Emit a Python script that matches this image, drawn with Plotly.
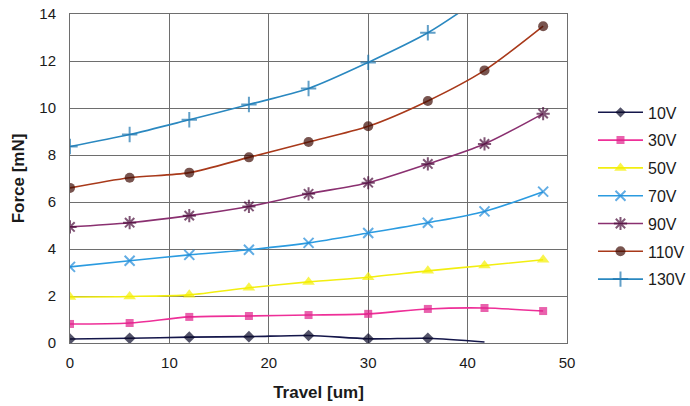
import plotly.graph_objects as go

# Travel positions [um] at which force was measured
travel = [0, 6, 12, 18, 24, 30, 36, 41.7, 47.6]

# Force [mN] per drive voltage
force_10v = [0.17, 0.20, 0.25, 0.27, 0.32, 0.18, 0.20, 0.04]
force_30v = [0.81, 0.85, 1.11, 1.15, 1.19, 1.24, 1.45, 1.49, 1.36]
force_50v = [1.96, 1.98, 2.05, 2.35, 2.60, 2.80, 3.07, 3.30, 3.54]
force_70v = [3.24, 3.50, 3.75, 3.97, 4.26, 4.68, 5.12, 5.60, 6.44]
force_90v = [4.94, 5.12, 5.42, 5.81, 6.35, 6.82, 7.62, 8.47, 9.76]
force_110v = [6.60, 7.03, 7.25, 7.90, 8.55, 9.22, 10.30, 11.60, 13.48]
force_130v = [8.36, 8.87, 9.50, 10.15, 10.83, 11.94, 13.20, 14.80]

labels = ["10V", "30V", "50V", "70V", "90V", "110V", "130V"]
series = [force_10v, force_30v, force_50v, force_70v, force_90v, force_110v, force_130v]

line_colors = ["#14164a", "#ee2f98", "#f2ee10", "#2b9be0", "#8a3070", "#a8391a", "#2a88c0"]
marker_colors = ["#0a0a2a", "#e0208a", "#f5f000", "#1f8ad8", "#4a0d3a", "#3e0c04", "#1f78b0"]
symbols = ["diamond", "square", "triangle-up", "x-thin-open", "asterisk-open", "circle", "cross-thin-open"]
sizes = [9, 8, 11, 10, 11, 10, 11]

fig = go.Figure()
for name, ys, lc, mc, sym, sz in zip(labels, series, line_colors, marker_colors, symbols, sizes):
    n = len(ys)
    msize = [sz] * n
    if name == "10V":
        msize[-1] = 0  # last reading drawn as line end only
    open_sym = sym.endswith("open")
    fig.add_trace(go.Scatter(
        x=travel[:n], y=ys, name=name, mode="lines+markers",
        line=dict(color=lc, width=1.6, shape="spline", smoothing=0.8),
        marker=dict(symbol=sym, size=msize, color=mc,
                    line=dict(color=mc, width=2 if open_sym else 0)),
        legendgroup=name,
    ))

fig.update_layout(
    width=690, height=406,
    margin=dict(l=70, r=123, t=14, b=63, autoexpand=False),
    paper_bgcolor="white", plot_bgcolor="white",
    font=dict(family="Liberation Sans, Arial, sans-serif", size=15, color="#1a1a1a"),
    showlegend=True,
    legend=dict(xref="container", yref="container", x=0.8594, y=0.765,
                xanchor="left", yanchor="top",
                tracegroupgap=4, font=dict(size=16, color="#1a1a1a"),
                bgcolor="rgba(0,0,0,0)", itemwidth=45),
)
fig.update_xaxes(
    range=[0, 50], tickvals=[0, 10, 20, 30, 40, 50],
    showgrid=True, gridcolor="#6e6e6e", gridwidth=1,
    zeroline=False, showline=True, linecolor="#6e6e6e", mirror=True,
    ticks="", ticklen=0, ticklabelstandoff=6, automargin=False,
    title=dict(text="<b>Travel [um]</b>", font=dict(size=17), standoff=16),
)
fig.update_yaxes(
    range=[0, 14], tickvals=list(range(0, 15, 2)),
    showgrid=True, gridcolor="#6e6e6e", gridwidth=1,
    zeroline=False, showline=True, linecolor="#6e6e6e", mirror=True,
    ticks="", ticklen=0, ticklabelstandoff=10, automargin=False,
    title=dict(text="<b>Force [mN]</b>", font=dict(size=17), standoff=10),
)

fig.write_html("out.html")
